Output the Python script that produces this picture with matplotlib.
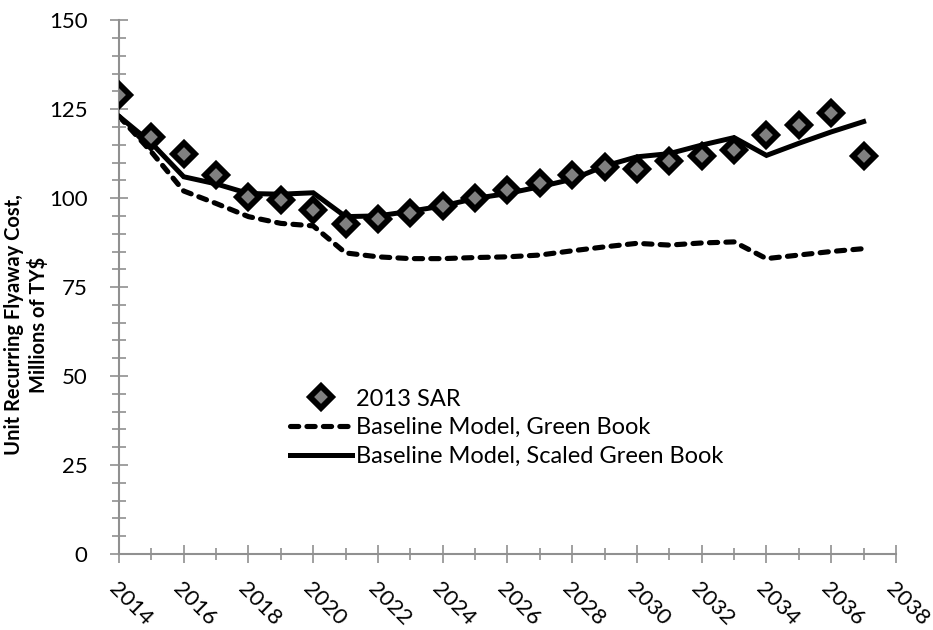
import matplotlib
matplotlib.use("Agg")
import matplotlib.pyplot as plt
from matplotlib.ticker import MultipleLocator

plt.rcParams['font.family'] = ['Lato', 'DejaVu Sans']

years = list(range(2014, 2038))
sar = [129, 117.2, 112.3, 106.6, 100.2, 99.6, 96.6, 92.7, 94.1, 95.9, 97.9, 100.1,
       102.4, 104.3, 106.5, 108.8, 108.3, 110.5, 111.8, 113.5, 117.7, 120.5, 124, 111.8]
green_book = [123, 113, 102, 98.5, 94.8, 92.9, 92.2, 84.6, 83.5, 83, 83, 83.3,
              83.5, 84, 85.2, 86.3, 87.3, 86.8, 87.4, 87.7, 83, 84, 85, 85.8]
scaled_green_book = [123, 115.5, 106, 104, 101.3, 101.1, 101.5, 94.8, 95, 96.3, 97.8, 99.9,
                     101.3, 103.2, 105.3, 109, 111.6, 112.5, 114.9, 117, 112, 115.4, 118.6, 121.5]

fig = plt.figure(figsize=(9.33, 6.3), dpi=100)
ax = fig.add_axes([0.1275, 0.1206, 0.8328, 0.8474])

ax.plot(years, green_book, color='black', lw=3.7, dashes=(1.6, 1.6),
        dash_capstyle='round', label='Baseline Model, Green Book', zorder=2)
ax.plot(years, scaled_green_book, color='black', lw=3.6, solid_joinstyle='miter',
        label='Baseline Model, Scaled Green Book', zorder=3)
ax.plot(years, sar, ls='none', marker='D', ms=11, mfc='#808080', mec='black',
        mew=4.2, label='2013 SAR', zorder=4)

ax.set_xlim(2014, 2038)
ax.set_ylim(0, 150)
ax.xaxis.set_major_locator(MultipleLocator(2))
ax.xaxis.set_minor_locator(MultipleLocator(1))
ax.yaxis.set_major_locator(MultipleLocator(25))
ax.yaxis.set_minor_locator(MultipleLocator(5))

for side in ['top', 'right']:
    ax.spines[side].set_visible(False)
for side in ['left', 'bottom']:
    ax.spines[side].set_color('#909090')
    ax.spines[side].set_linewidth(1.5)

ax.tick_params(axis='both', which='both', direction='inout', color='#909090', width=1.2)
ax.tick_params(axis='y', which='major', length=13, labelsize=16, pad=16)
ax.tick_params(axis='y', which='minor', length=10)
ax.tick_params(axis='x', which='major', length=13, labelsize=16, pad=11)
ax.tick_params(axis='x', which='minor', length=9)

for lbl in ax.get_xticklabels():
    lbl.set_rotation(-45)
    lbl.set_ha('left')
    lbl.set_va('top')
    lbl.set_rotation_mode('anchor')

ax.set_ylabel('Unit Recurring Flyaway Cost,\nMillions of TY$', fontsize=14.5,
              fontweight='bold', linespacing=1.25)
ax.yaxis.set_label_coords(-0.09, 0.43)

handles, labels = ax.get_legend_handles_labels()
order = [2, 0, 1]
ax.legend([handles[i] for i in order], [labels[i] for i in order],
          loc='upper left', bbox_to_anchor=(0.22, 0.31), frameon=False,
          fontsize=17, handlelength=2.65, handletextpad=0.15, labelspacing=0.33,
          borderaxespad=0, borderpad=0)

fig.savefig('out.png', dpi=100)
